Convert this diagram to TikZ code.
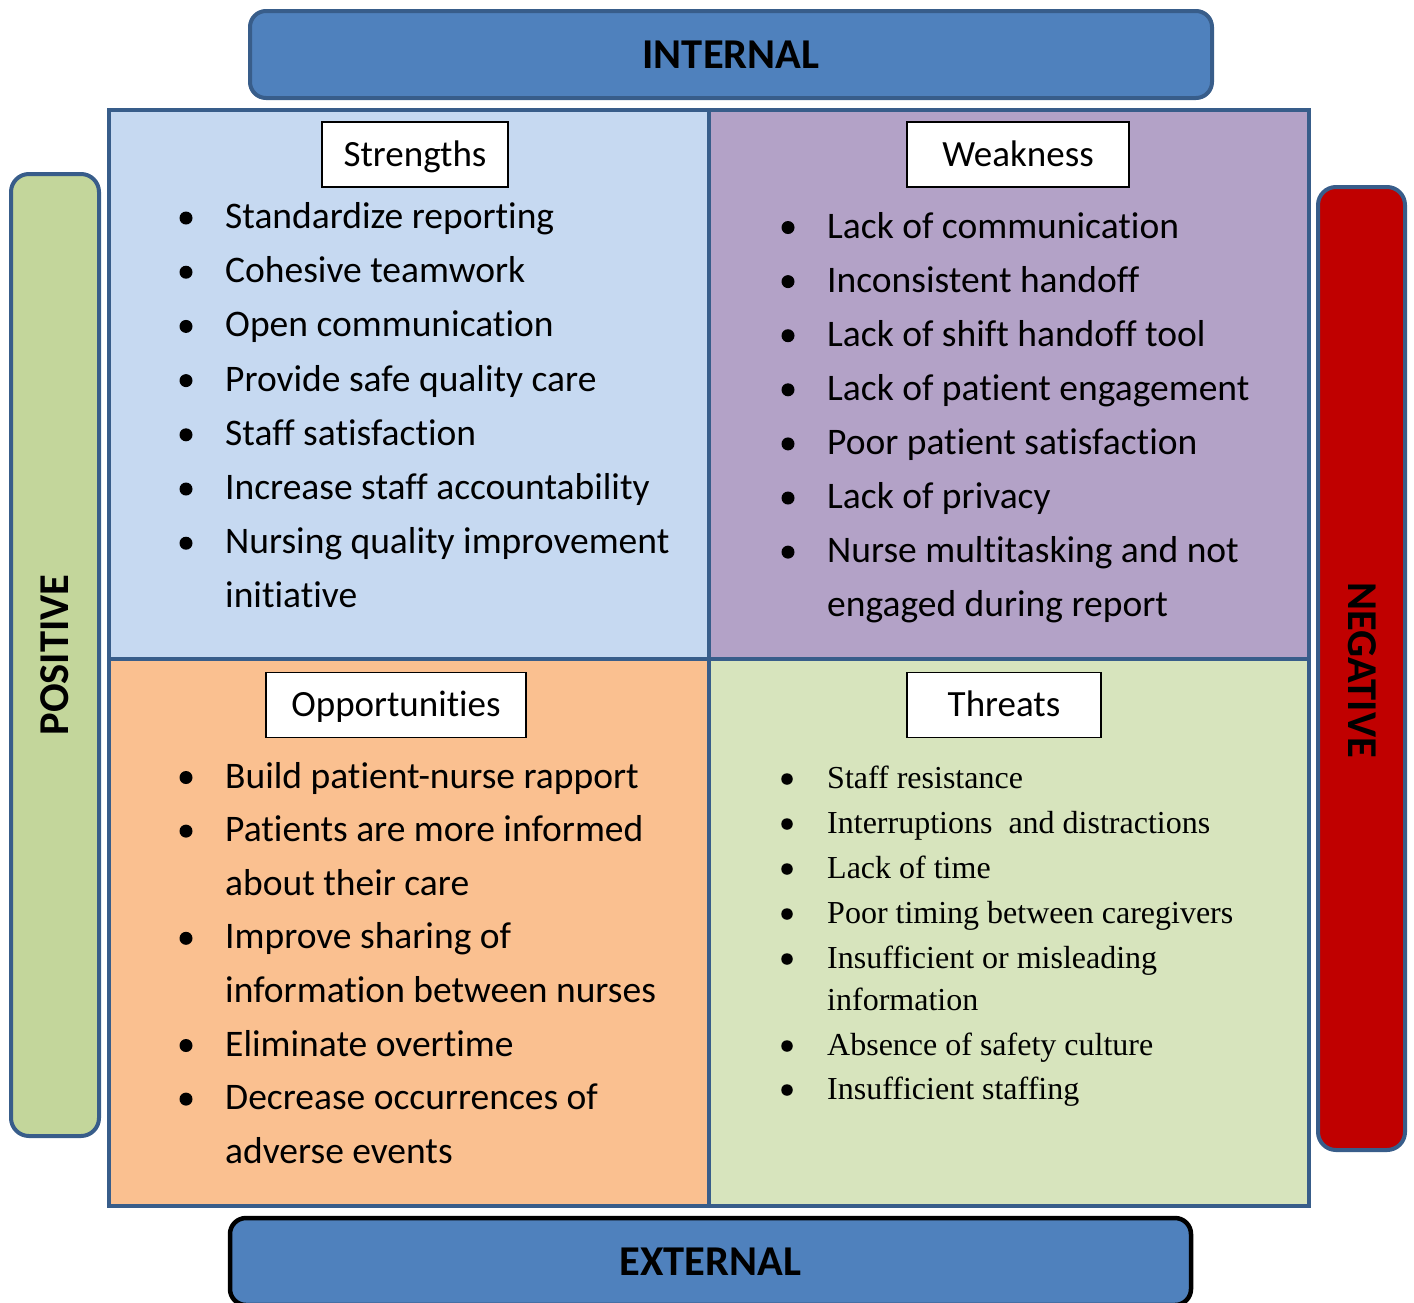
\documentclass[tikz,border=0pt]{standalone}
\usepackage{fontspec}
\setmainfont{Carlito}[Ligatures=NoCommon]
\newfontfamily\thrfont{Liberation Serif}[Ligatures=NoCommon]
\definecolor{bord}{HTML}{385D8A}
\definecolor{bluef}{HTML}{4F81BD}
\definecolor{strf}{HTML}{C6D9F1}
\definecolor{weakf}{HTML}{B3A2C7}
\definecolor{oppf}{HTML}{FAC090}
\definecolor{thrf}{HTML}{D7E4BD}
\definecolor{posf}{HTML}{C3D69B}
\definecolor{negf}{HTML}{C00000}
\begin{document}
\begin{tikzpicture}[x=1pt,y=-1pt,
  banner/.style={draw=bord, line width=4pt, fill=bluef, rounded corners=16pt, inner sep=0pt,
     font=\fontsize{42.5}{50}\selectfont\bfseries},
  sidebar/.style={draw=bord, line width=4pt, rounded corners=18pt, inner sep=0pt},
  quad/.style={draw=bord, line width=4pt},
  labelbox/.style={draw=black, line width=1.8pt, fill=white, inner sep=0pt, minimum height=65pt,
     text height=25pt, text depth=2pt, font=\fontsize{37}{44}\selectfont},
  itemtext/.style={anchor=base west, inner sep=0pt, font=\fontsize{37.5}{44}\selectfont},
  thrtext/.style={anchor=base west, inner sep=0pt, font=\thrfont\fontsize{32}{40}\selectfont},
  dotb/.style={circle, fill=black, inner sep=0pt, minimum size=13pt},
  dott/.style={circle, fill=black, inner sep=0pt, minimum size=11.5pt}
]
\useasboundingbox (0,0) rectangle (1414,1302);

% banners
\node[banner, minimum width=962pt, minimum height=87pt] (internal) at (731,54.5) {INTERNAL};
\node[banner, draw=black, line width=4.5pt, minimum width=961pt, minimum height=87pt] (external) at (710.5,1261.5) {EXTERNAL};

% side bars
\node[sidebar, fill=posf, minimum width=88pt, minimum height=962pt] (posbar) at (55,655) {};
\node[rotate=90, font=\fontsize{42.5}{50}\selectfont\bfseries] (postext) at (posbar.center) {POSITIVE};
\node[sidebar, fill=negf, minimum width=87pt, minimum height=963pt] (negbar) at (1361.5,668.5) {};
\node[rotate=-90, font=\fontsize{42.5}{50}\selectfont\bfseries] (negtext) at (1362,670) {NEGATIVE};

% quadrants
\draw[quad, fill=strf] (109,110) rectangle (709,659);
\draw[quad, fill=weakf] (709,110) rectangle (1309,659);
\draw[quad, fill=oppf] (109,659) rectangle (709,1206);
\draw[quad, fill=thrf] (709,659) rectangle (1309,1206);

% titles
\node[labelbox, minimum width=186pt] (strl) at (415,154.5) {Strengths};
\node[labelbox, minimum width=222pt] (weakl) at (1018,154.5) {Weakness};
\node[labelbox, minimum width=260pt] (oppl) at (396,705) {Opportunities};
\node[labelbox, minimum width=194pt] (thrl) at (1004,705) {Threats};

% Strengths
\foreach \b/\t [count=\i] in {1/Standardize reporting, 1/Cohesive teamwork, 1/Open communication,
   1/Provide safe quality care, 1/Staff satisfaction, 1/Increase staff accountability,
   1/Nursing quality improvement, 0/initiative}{
  \pgfmathsetmacro\yy{228.5+54.2*(\i-1)}
  \node[itemtext] (s\i) at (225,\yy) {\t};
  \ifnum\b=1 \node[dotb] (sb\i) at (186,\yy-10.5) {}; \fi
}

% Weakness
\foreach \b/\t [count=\i] in {1/Lack of communication, 1/Inconsistent handoff, 1/Lack of shift handoff tool,
   1/Lack of patient engagement, 1/Poor patient satisfaction, 1/Lack of privacy,
   1/Nurse multitasking and not, 0/engaged during report}{
  \pgfmathsetmacro\yy{238+54.1*(\i-1)}
  \node[itemtext] (w\i) at (827,\yy) {\t};
  \ifnum\b=1 \node[dotb] (wb\i) at (788,\yy-10.5) {}; \fi
}

% Opportunities
\foreach \b/\t [count=\i] in {1/Build patient-nurse rapport, 1/Patients are more informed, 0/about their care,
   1/Improve sharing of, 0/information between nurses, 1/Eliminate overtime,
   1/Decrease occurrences of, 0/adverse events}{
  \pgfmathsetmacro\yy{788+53.6*(\i-1)}
  \node[itemtext] (o\i) at (225,\yy) {\t};
  \ifnum\b=1 \node[dotb] (ob\i) at (186,\yy-10.5) {}; \fi
}

% Threats
\foreach \b/\yy/\t [count=\i] in {1/788/Staff resistance, 1/833/Interruptions\ \ and distractions, 1/878/Lack of time,
   1/923/Poor timing between caregivers, 1/968/Insufficient or misleading, 0/1010/information,
   1/1055/Absence of safety culture, 1/1099/Insufficient staffing}{
  \node[thrtext] (t\i) at (827,\yy) {\t};
  \ifnum\b=1 \node[dott] (tb\i) at (787,\yy-9) {}; \fi
}
\end{tikzpicture}
\end{document}
